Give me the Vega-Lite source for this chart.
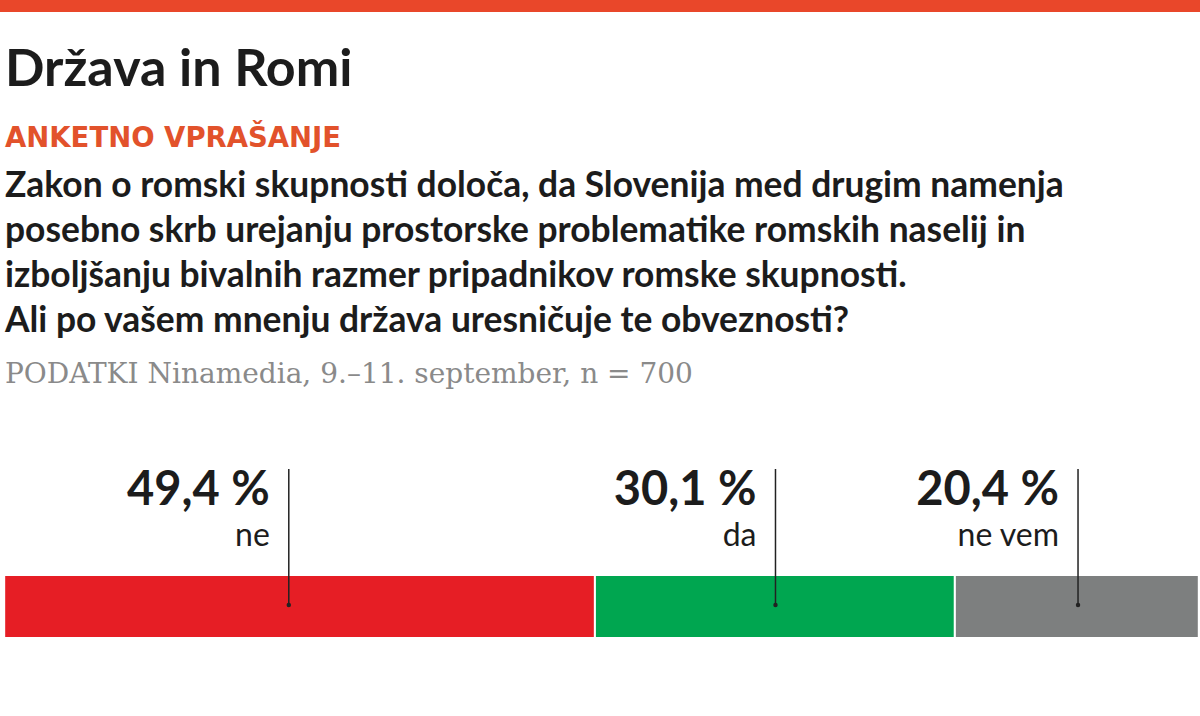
{
  "$schema": "https://vega.github.io/schema/vega-lite/v6.json",
  "background": "white",
  "padding": 0,
  "spacing": 15,
  "config": {"view": {"stroke": null}},
  "datasets": {
    "top": [{"v": 1}],
    "poll": [
      {"answer": "ne", "label": "49,4 %", "value": 49.4, "order": 1, "anchor": 23.8},
      {"answer": "da", "label": "30,1 %", "value": 30.1, "order": 2, "anchor": 64.5},
      {"answer": "ne vem", "label": "20,4 %", "value": 20.4, "order": 3, "anchor": 89.8}
    ]
  },
  "vconcat": [
    {
      "width": 1200,
      "height": 12,
      "data": {"name": "top"},
      "mark": {"type": "rect", "color": "#e9472a"},
      "encoding": {
        "x": {"datum": 0, "type": "quantitative", "scale": {"domain": [0, 1], "nice": false, "zero": false}, "axis": null},
        "x2": {"datum": 1},
        "y": {"datum": 0, "type": "quantitative", "scale": {"domain": [0, 1], "nice": false, "zero": false}, "axis": null},
        "y2": {"datum": 1}
      },
      "title": {
        "text": "Država in Romi",
        "subtitle": "ANKETNO VPRAŠANJE",
        "orient": "bottom",
        "anchor": "start",
        "offset": 33,
        "dx": 5,
        "font": "Lato",
        "fontSize": 52,
        "fontWeight": "bold",
        "color": "#1c1c1c",
        "subtitleFont": "DejaVu Sans",
        "subtitleFontSize": 27.5,
        "subtitleFontWeight": "bold",
        "subtitleColor": "#e2522b",
        "subtitlePadding": 28
      }
    },
    {
      "width": 1200,
      "height": 180,
      "data": {"name": "poll"},
      "title": {
        "text": [
          "Zakon o romski skupnosti določa, da Slovenija med drugim namenja",
          "posebno skrb urejanju prostorske problematike romskih naselij in",
          "izboljšanju bivalnih razmer pripadnikov romske skupnosti.",
          "Ali po vašem mnenju država uresničuje te obveznosti?"
        ],
        "subtitle": "PODATKI Ninamedia, 9.–11. september, n = 700",
        "orient": "top",
        "anchor": "start",
        "offset": 72,
        "dx": 5,
        "font": "Lato",
        "fontSize": 35.4,
        "fontWeight": "bold",
        "lineHeight": 45,
        "color": "#1c1c1c",
        "subtitleFont": "DejaVu Serif",
        "subtitleFontSize": 28,
        "subtitleColor": "#8a8a8a",
        "subtitlePadding": 22
      },
      "layer": [
        {
          "transform": [
            {"stack": "value", "groupby": [], "sort": [{"field": "order", "order": "ascending"}], "as": ["x0", "x1"]}
          ],
          "mark": {"type": "rect", "stroke": "white", "strokeWidth": 2},
          "encoding": {
            "x": {"field": "x0", "type": "quantitative", "scale": {"domain": [-0.35, 100], "nice": false, "zero": false}, "axis": null},
            "x2": {"field": "x1"},
            "y": {"datum": 114, "type": "quantitative", "scale": {"domain": [0, 180], "reverse": true, "nice": false, "zero": false}, "axis": null},
            "y2": {"datum": 177},
            "color": {"field": "answer", "type": "nominal", "scale": {"domain": ["ne", "da", "ne vem"], "range": ["#e61e25", "#00a650", "#7d7f7f"]}, "legend": null}
          }
        },
        {
          "mark": {"type": "rule", "color": "#222222", "strokeWidth": 1.5},
          "encoding": {
            "x": {"field": "anchor", "type": "quantitative"},
            "y": {"datum": 8, "type": "quantitative"},
            "y2": {"datum": 144}
          }
        },
        {
          "mark": {"type": "point", "filled": true, "color": "#222222", "size": 20, "opacity": 1},
          "encoding": {
            "x": {"field": "anchor", "type": "quantitative"},
            "y": {"datum": 144, "type": "quantitative"}
          }
        },
        {
          "mark": {"type": "text", "align": "right", "baseline": "alphabetic", "dx": -19, "font": "Lato", "fontSize": 47, "fontWeight": "bold", "color": "#1c1c1c"},
          "encoding": {
            "x": {"field": "anchor", "type": "quantitative"},
            "y": {"datum": 44, "type": "quantitative"},
            "text": {"field": "label"}
          }
        },
        {
          "mark": {"type": "text", "align": "right", "baseline": "alphabetic", "dx": -19, "font": "Lato", "fontSize": 32, "color": "#1c1c1c"},
          "encoding": {
            "x": {"field": "anchor", "type": "quantitative"},
            "y": {"datum": 85, "type": "quantitative"},
            "text": {"field": "answer"}
          }
        }
      ]
    }
  ]
}
